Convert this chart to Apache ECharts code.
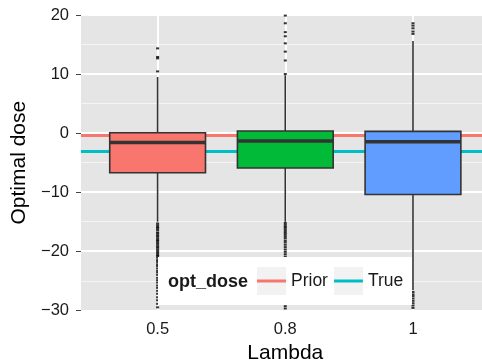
<!DOCTYPE html>
<html><head><meta charset="utf-8">
<script src="https://cdn.jsdelivr.net/npm/echarts@6/dist/echarts.min.js"></script>
<style>html,body{margin:0;padding:0;background:#fff}#c{width:482px;height:364px}</style>
</head><body><div id="c"></div>
<script>
// ---- data ----
const categories = ['0.5', '0.8', '1'];
const boxColors = ['#F8766D', '#00BA38', '#619CFF'];
// [lower whisker, Q1, median, Q3, upper whisker]
const stats05 = [-15.0, -6.7, -1.6, 0.05, 9.5];
const stats08 = [-15.0, -5.9, -1.35, 0.35, 9.8];
const stats1 = [-26.6, -10.4, -1.45, 0.3, 15.6];
const outliers05 = [10.45, 12.65, 12.9, 14.35,
  -15.3, -15.6, -15.9, -16.1, -16.4, -16.8, -17.0, -17.3, -17.5, -17.8, -18.1, -18.3, -18.6, -18.9,
  -19.2, -19.4, -19.7, -20.0, -20.3, -20.6, -20.8, -21.1, -21.5, -21.8, -22.2, -22.5, -22.9, -23.3,
  -23.6, -24.0, -24.5, -24.9, -25.3, -25.8, -26.2, -26.7, -27.2, -27.8, -28.3, -28.9, -29.5];
const outliers08 = [10.0, 12.3, 13.8, 15.2, 16.4, 17.1, 18.6, 19.9,
  -15.2, -15.5, -15.8, -16.0, -16.3, -16.6, -16.9, -17.2, -17.5, -17.8, -18.2, -18.5, -18.9,
  -19.3, -19.7, -20.1, -20.5, -20.9, -21.4, -22.0, -22.7, -23.5, -24.4, -25.3, -26.2, -27.1,
  -28.0, -28.8, -29.3, -29.7];
const outliers1 = [16.8, 17.2, 17.75, 18.2, 18.6,
  -26.9, -27.3, -27.6, -28.0, -28.4, -28.8, -29.2, -29.6];
const priorDose = -0.3;
const trueDose = -3.1;
const yTicks = [-30, -20, -10, 0, 10, 20];

// ---- build ----
const allStats = [stats05, stats08, stats1];
const allOutliers = [outliers05, outliers08, outliers1];
const boxData = allStats.map((s, i) => [i + 1].concat(s));
const outlierData = [];
allOutliers.forEach((arr, i) => arr.forEach(v => outlierData.push([i + 1, v])));
const catPos = categories.map((c, i) => i + 1);
const minus = v => String(v).replace('-', '\u2212');
const FONT = '"Liberation Sans", Arial, sans-serif';
const stroke = '#333333';

const chart = echarts.init(document.getElementById('c'), null, {renderer: 'canvas'});
chart.setOption({
  animation: false,
  backgroundColor: '#ffffff',
  textStyle: {fontFamily: FONT},
  grid: {left: 81, width: 408.6, top: 15, bottom: 53.7, show: true,
         outerBoundsMode: 'none',
         backgroundColor: '#E5E5E5', borderWidth: 0, containLabel: false},
  xAxis: {
    type: 'value', min: 0.4, max: 3.6,
    axisLine: {show: false},
    axisTick: {show: true, length: 5, customValues: catPos, lineStyle: {color: '#444', width: 1}},
    axisLabel: {customValues: catPos, formatter: v => categories[Math.round(v) - 1],
                fontSize: 16.5, color: '#1a1a1a', margin: 11, fontFamily: FONT},
    splitLine: {show: true, lineStyle: {color: '#ffffff', width: 2}},
    name: 'Lambda', nameLocation: 'middle', nameGap: 28,
    nameTextStyle: {fontSize: 21, color: '#000', fontFamily: FONT}
  },
  yAxis: {
    type: 'value', min: yTicks[0], max: yTicks[yTicks.length - 1], interval: 10,
    axisLine: {show: false},
    axisTick: {show: true, length: 5, lineStyle: {color: '#444', width: 1}},
    axisLabel: {formatter: minus, fontSize: 16.5, color: '#1a1a1a', margin: 12, fontFamily: FONT},
    splitLine: {show: true, lineStyle: {color: '#ffffff', width: 2}},
    minorTick: {show: false, splitNumber: 2},
    minorSplitLine: {show: true, lineStyle: {color: '#F5F5F5', width: 1}},
    name: 'Optimal dose', nameLocation: 'middle', nameGap: 41,
    nameTextStyle: {fontSize: 21, color: '#000', fontFamily: FONT}
  },
  legend: {
    left: 257, top: 271, padding: 0, itemWidth: 29, itemHeight: 3, itemGap: 6,
    icon: 'rect', z: 200,
    textStyle: {fontSize: 17.5, color: '#1a1a1a', lineHeight: 20, fontFamily: FONT},
    data: ['Prior', 'True']
  },
  graphic: {
    elements: [
      {type: 'rect', z: 100, silent: true, shape: {x: 158, y: 257, width: 254, height: 48}, style: {fill: '#ffffff'}},
      {type: 'rect', z: 101, silent: true, shape: {x: 257, y: 267, width: 29, height: 28}, style: {fill: '#F2F2F2'}},
      {type: 'rect', z: 101, silent: true, shape: {x: 334, y: 267, width: 29, height: 28}, style: {fill: '#F2F2F2'}},
      {type: 'text', z: 102, silent: true, x: 168, y: 282,
       style: {text: 'opt_dose', font: 'bold 18px ' + FONT, fill: '#1a1a1a', verticalAlign: 'middle'}}
    ]
  },
  series: [
    {name: 'Prior', type: 'line', data: [], z: 1,
     itemStyle: {color: '#F8766D'}, lineStyle: {color: '#F8766D', width: 3},
     markLine: {silent: true, z: 1, symbol: ['none', 'none'], label: {show: false},
                lineStyle: {color: '#F8766D', width: 3, type: 'solid'},
                data: [{yAxis: priorDose}]}},
    {name: 'True', type: 'line', data: [], z: 1,
     itemStyle: {color: '#00BFC4'}, lineStyle: {color: '#00BFC4', width: 3},
     markLine: {silent: true, z: 1, symbol: ['none', 'none'], label: {show: false},
                lineStyle: {color: '#00BFC4', width: 3, type: 'solid'},
                data: [{yAxis: trueDose}]}},
    {name: 'box', type: 'custom', z: 3, data: boxData,
     encode: {x: 0, y: [1, 2, 3, 4, 5]},
     renderItem: function (params, api) {
       const x = api.value(0);
       const lo = api.coord([x, api.value(1)]);
       const q1 = api.coord([x, api.value(2)]);
       const med = api.coord([x, api.value(3)]);
       const q3 = api.coord([x, api.value(4)]);
       const hi = api.coord([x, api.value(5)]);
       const hw = api.size([0.75, 0])[0] / 2;
       const cx = q1[0];
       return {type: 'group', children: [
         {type: 'line', shape: {x1: cx, y1: hi[1], x2: cx, y2: q3[1]}, style: {stroke: stroke, lineWidth: 1.6}},
         {type: 'line', shape: {x1: cx, y1: q1[1], x2: cx, y2: lo[1]}, style: {stroke: stroke, lineWidth: 1.6}},
         {type: 'rect', shape: {x: cx - hw, y: q3[1], width: 2 * hw, height: q1[1] - q3[1]},
          style: {fill: boxColors[params.dataIndex], stroke: stroke, lineWidth: 1.6}},
         {type: 'line', shape: {x1: cx - hw, y1: med[1], x2: cx + hw, y2: med[1]}, style: {stroke: stroke, lineWidth: 3.5}}
       ]};
     }},
    {name: 'outliers', type: 'scatter', z: 4, data: outlierData, clip: true,
     symbol: 'rect', symbolSize: [3, 2], itemStyle: {color: '#000000'}}
  ]
});
</script></body></html>
